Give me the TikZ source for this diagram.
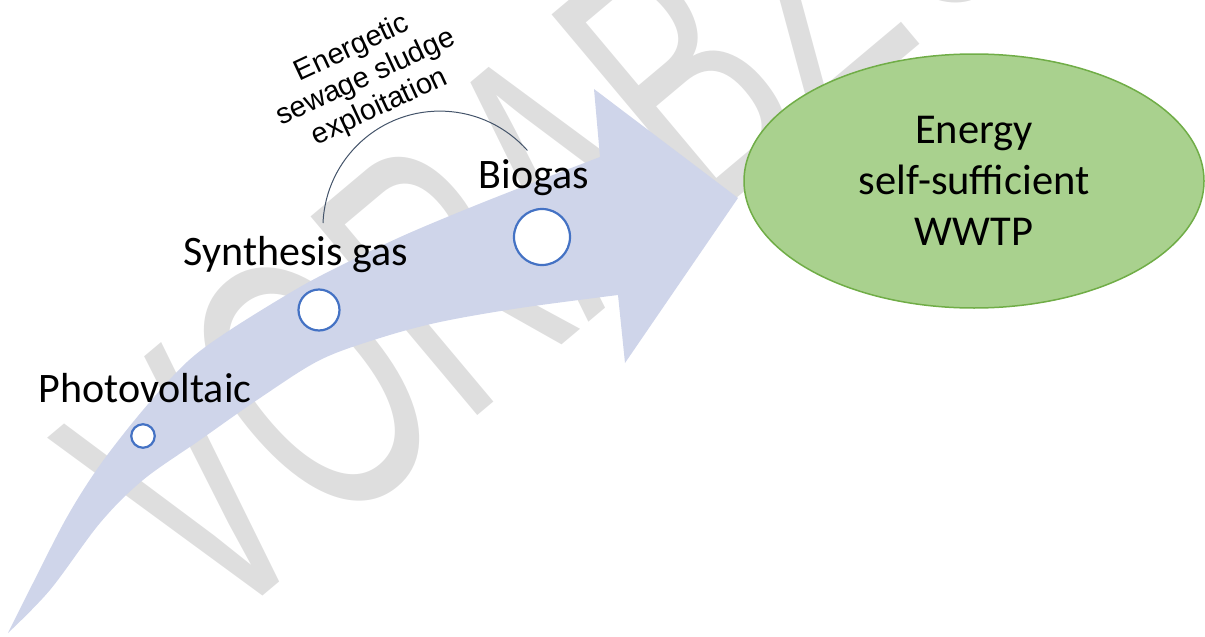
\documentclass[tikz,border=0pt]{standalone}
\usepackage{fontspec}
\setmainfont{Carlito}
\newfontfamily\arialfont{Liberation Sans}
\usetikzlibrary{shapes.geometric}
\definecolor{arrowblue}{HTML}{CFD5EA}
\definecolor{wmgray}{HTML}{DEDEDE}
\definecolor{circblue}{HTML}{4472C4}
\definecolor{goalfill}{HTML}{A9D18E}
\definecolor{goaldraw}{HTML}{70AD47}
\definecolor{arcgray}{HTML}{44546A}
\tikzset{
  watermark/.style={text=wmgray, inner sep=0pt, font=\arialfont\fontsize{377}{377}\selectfont},
  stage/.style={circle, draw=circblue, fill=white, line width=2.2pt, inner sep=0pt},
  stagelabel/.style={anchor=base, inner sep=0pt, font=\fontsize{42}{50}\selectfont},
  goal/.style={ellipse, draw=goaldraw, fill=goalfill, line width=1.5pt, inner sep=0pt,
    minimum width=460pt, minimum height=254pt, align=center,
    font=\fontsize{42.5}{51}\selectfont},
  arclabel/.style={align=center, inner sep=0pt, font=\arialfont\fontsize{29}{32.5}\selectfont},
  arcline/.style={draw=arcgray, line width=1pt}
}
\begin{document}
\begin{tikzpicture}[x=1pt,y=-1pt]
\useasboundingbox (0,0) rectangle (1205,637);
% watermark
\node[watermark, rotate=40, anchor=base west] (wm) at (213,638) {\scalebox{0.6}[1]{VORABZUG}};
% big curved arrow
\fill[arrowblue] plot[smooth, tension=0.55] coordinates {(8,633) (33,583) (67,517) (100,465) (143,410) (187,362) (230,330) (300,287) (350,261) (407,234) (474,206) (540,180) (600,157)}
  -- (594,89) -- (738,198) -- (625,363) -- (618,295)
  -- plot[smooth, tension=0.55] coordinates {(618,295) (520,308) (440,322) (380,338) (320,360) (260,398) (200,440) (143,480) (100,523) (50,590) (8,633)} -- cycle;
% stages
\node[stage, minimum size=23.5pt] (pv) at (143,436) {};
\node[stage, minimum size=41pt] (sg) at (319,310) {};
\node[stage, minimum size=56pt] (bg) at (542,237) {};
\node[stagelabel] (pvl) at (145,402) {Photovoltaic};
\node[stagelabel] (sgl) at (296,265) {Synthesis gas};
\node[stagelabel] (bgl) at (534,188) {Biogas};
% goal
\node[goal] (goal) at (974,181) {Energy\\self-sufficient\\WWTP};
% arc
\coordinate (arcS) at (323,223);
\draw[arcline] (arcS) arc[start angle=182.5, end angle=318.4, radius=117] coordinate (arcE);
\node[arclabel, rotate=25] (esse) at (366,78) {Energetic\\sewage sludge\\exploitation};
\end{tikzpicture}
\end{document}
